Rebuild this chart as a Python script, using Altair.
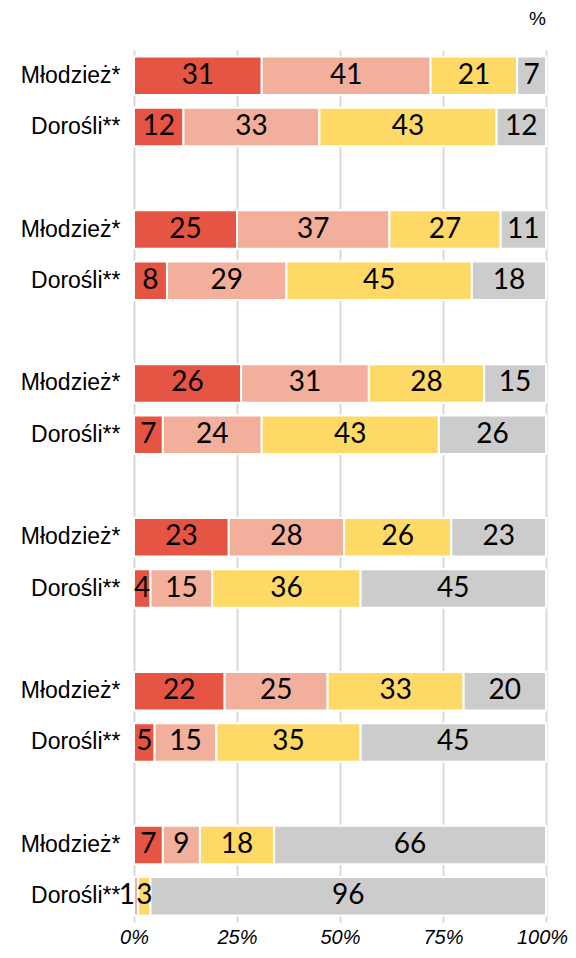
import altair as alt
import pandas as pd

groups = ["1", "2", "3", "4", "5", "6"]
people = ["Młodzież*", "Dorośli**"]
categories = ["Kat. 1", "Kat. 2", "Kat. 3", "Kat. 4"]
colors = ["#E65443", "#F1AF9C", "#FFD966", "#CCCCCC"]

# values per group: [Młodzież*, Dorośli**], each four categories
mlodziez = [
    [31, 41, 21, 7],
    [25, 37, 27, 11],
    [26, 31, 28, 15],
    [23, 28, 26, 23],
    [22, 25, 33, 20],
    [7, 9, 18, 66],
]
dorosli = [
    [12, 33, 43, 12],
    [8, 29, 45, 18],
    [7, 24, 43, 26],
    [4, 15, 36, 45],
    [5, 15, 35, 45],
    [0, 1, 3, 96],
]
x_ticks = [0, 25, 50, 75, 100]

rows = []
domain = []
for gi, g in enumerate(groups):
    for p, vals in zip(people, [mlodziez[gi], dorosli[gi]]):
        key = f"{g}|{p}"
        domain.append(key)
        for ci, (c, v) in enumerate(zip(categories, vals)):
            rows.append({"row": key, "cat": c, "order": ci, "value": v})
    if gi < len(groups) - 1:
        domain.append(f"s{g}")
df = pd.DataFrame(rows)

FONT_LBL = "Liberation Sans, Arial"

y_enc = alt.Y(
    "row:N",
    scale=alt.Scale(domain=domain, paddingInner=0.25, paddingOuter=0.125),
    axis=alt.Axis(
        title=None,
        labelExpr="indexof(datum.value, '|') >= 0 ? split(datum.value, '|')[1] : ''",
        ticks=False,
        domain=False,
        labelFont=FONT_LBL,
        labelFontSize=23,
        labelColor="#000000",
        labelPadding=14,
    ),
)

bars = alt.Chart(df).mark_bar(stroke="white", strokeWidth=2).encode(
    x=alt.X(
        "value:Q",
        stack="zero",
        scale=alt.Scale(domain=[0, 100], nice=False),
        axis=alt.Axis(
            title=None,
            values=x_ticks,
            labelExpr="datum.value + '%'",
            ticks=False,
            domain=False,
            grid=True,
            gridColor="#D9D9D9",
            gridWidth=2,
            labelFont=FONT_LBL,
            labelFontSize=20,
            labelFontStyle="italic",
            labelColor="#000000",
            labelPadding=5,
            labelFlush=False,
            labelOffset={"condition": {"test": "datum.value === 100", "value": -4}, "value": 0},
        ),
    ),
    y=y_enc,
    color=alt.Color("cat:N", scale=alt.Scale(domain=categories, range=colors), legend=None),
    order=alt.Order("order:Q"),
)

base_txt = (
    alt.Chart(df)
    .transform_window(cum="sum(value)", groupby=["row"], sort=[alt.SortField("order")])
    .transform_calculate(mid="datum.cum - datum.value / 2", start="datum.cum - datum.value")
)

texts = (
    base_txt.transform_filter("datum.value >= 2")
    .mark_text(font="Lato", fontSize=28, color="#000000")
    .encode(
        x=alt.X("mid:Q"),
        y=alt.Y("row:N", scale=alt.Scale(domain=domain)),
        text=alt.Text("value:Q"),
    )
)

small_texts = (
    base_txt.transform_filter("datum.value > 0 && datum.value < 2")
    .mark_text(font="Lato", fontSize=28, color="#000000", align="right", dx=1)
    .encode(
        x=alt.X("start:Q"),
        y=alt.Y("row:N", scale=alt.Scale(domain=domain)),
        text=alt.Text("value:Q"),
    )
)

chart = (
    alt.layer(bars, texts, small_texts)
    .properties(
        width=412,
        height=872,
        padding={"left": 126, "top": 42, "right": 22, "bottom": 26},
        autosize=alt.AutoSizeParams(type="none"),
        title=alt.TitleParams(
            "%", anchor="end", frame="group", fontSize=19, fontWeight="normal",
            font="Liberation Sans", color="#000000", offset=21,
        ),
    )
    .configure_view(stroke=None)
)

chart.save("out.html", embed_options={"renderer": "svg", "actions": False})
